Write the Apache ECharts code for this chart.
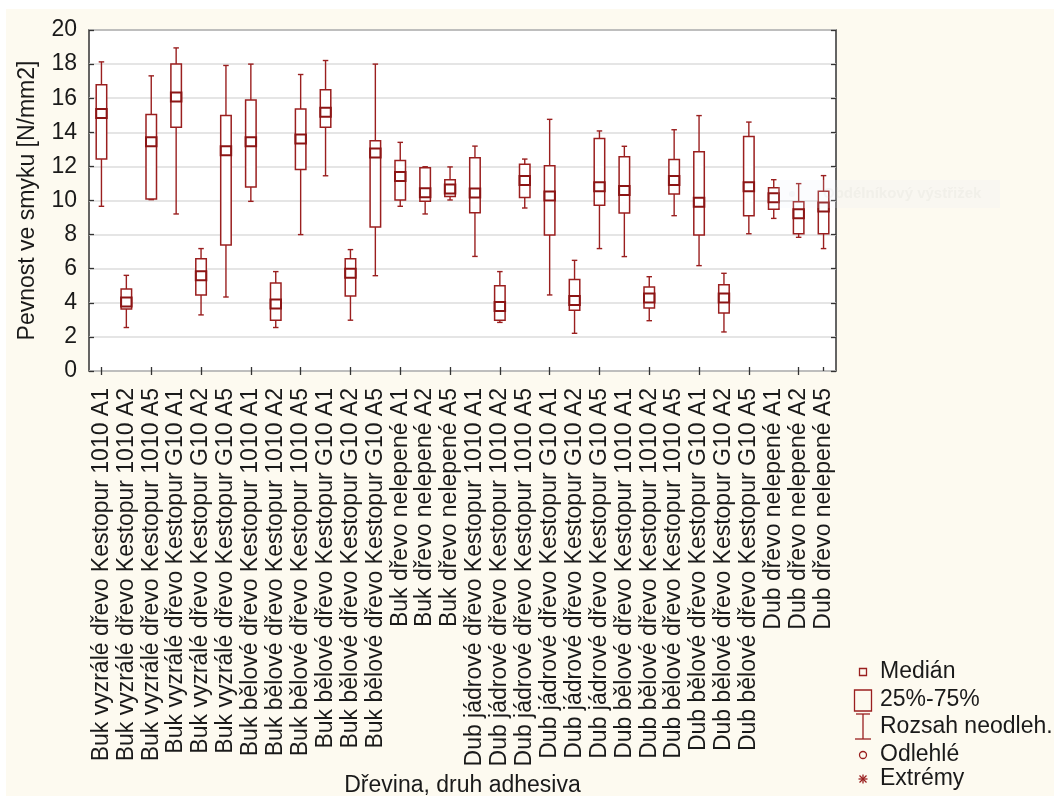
<!DOCTYPE html>
<html>
<head>
<meta charset="utf-8">
<script src="https://cdn.jsdelivr.net/npm/echarts@6.0.0/dist/echarts.min.js"></script>
<style>
  html, body { margin: 0; padding: 0; background: #fff; }
  #chart { width: 1054px; height: 796px; }
</style>
</head>
<body>
<div id="chart"></div>
<script>
// categories (x axis)
var categories = [
  'Buk vyzrálé dřevo Kestopur 1010 A1',
  'Buk vyzrálé dřevo Kestopur 1010 A2',
  'Buk vyzrálé dřevo Kestopur 1010 A5',
  'Buk vyzrálé dřevo Kestopur G10 A1',
  'Buk vyzrálé dřevo Kestopur G10 A2',
  'Buk vyzrálé dřevo Kestopur G10 A5',
  'Buk bělové dřevo Kestopur 1010 A1',
  'Buk bělové dřevo Kestopur 1010 A2',
  'Buk bělové dřevo Kestopur 1010 A5',
  'Buk bělové dřevo Kestopur G10 A1',
  'Buk bělové dřevo Kestopur G10 A2',
  'Buk bělové dřevo Kestopur G10 A5',
  'Buk dřevo nelepené A1',
  'Buk dřevo nelepené A2',
  'Buk dřevo nelepené A5',
  'Dub jádrové dřevo Kestopur 1010 A1',
  'Dub jádrové dřevo Kestopur 1010 A2',
  'Dub jádrové dřevo Kestopur 1010 A5',
  'Dub jádrové dřevo Kestopur G10 A1',
  'Dub jádrové dřevo Kestopur G10 A2',
  'Dub jádrové dřevo Kestopur G10 A5',
  'Dub bělové dřevo Kestopur 1010 A1',
  'Dub bělové dřevo Kestopur 1010 A2',
  'Dub bělové dřevo Kestopur 1010 A5',
  'Dub bělové dřevo Kestopur G10 A1',
  'Dub bělové dřevo Kestopur G10 A2',
  'Dub bělové dřevo Kestopur G10 A5',
  'Dub dřevo nelepené A1',
  'Dub dřevo nelepené A2',
  'Dub dřevo nelepené A5'
];

// whisker low / high (rozsah neodleh.)
var minValues = [9.66, 2.55, 10.05, 9.21, 3.29, 4.34, 9.95, 2.55, 8.00, 11.45,
                 2.98, 5.59, 9.66, 9.21, 10.03, 6.72, 2.85, 9.56, 4.46, 2.21,
                 7.18, 6.71, 2.95, 9.11, 6.18, 2.29, 8.05, 8.95, 7.84, 7.18];
var maxValues = [18.13, 5.61, 17.31, 18.95, 7.18, 17.92, 18.00, 5.83, 17.39, 18.21,
                 7.12, 18.00, 13.41, 11.98, 11.97, 13.19, 5.83, 12.43, 14.76, 6.49,
                 14.08, 13.18, 5.53, 14.15, 14.98, 5.73, 14.60, 11.22, 10.99, 11.46];
// 25% and 75%
var q1Values = [12.43, 3.64, 10.09, 14.30, 4.46, 7.39, 10.79, 2.98, 11.82, 14.30,
                4.40, 8.44, 10.03, 9.95, 10.24, 9.28, 2.97, 10.17, 7.98, 3.56,
                9.72, 9.27, 3.70, 10.38, 7.98, 3.40, 9.11, 9.48, 8.05, 8.05];
var q3Values = [16.79, 4.81, 15.05, 18.00, 6.59, 14.99, 15.89, 5.16, 15.36, 16.49,
                6.59, 13.50, 12.35, 11.92, 11.22, 12.51, 5.00, 12.12, 12.04, 5.36,
                13.63, 12.57, 4.93, 12.41, 12.86, 5.06, 13.76, 10.75, 9.93, 10.54];
// median
var medianValues = [15.10, 4.05, 13.45, 16.07, 5.59, 12.92, 13.44, 3.93, 13.60, 15.17,
                    5.73, 12.78, 11.41, 10.45, 10.67, 10.44, 3.78, 11.18, 10.27, 4.13,
                    10.80, 10.59, 4.28, 11.18, 9.90, 4.28, 10.80, 10.16, 9.23, 9.62];

var legendLabels = ['Medián', '25%-75%', 'Rozsah neodleh.', 'Odlehlé', 'Extrémy'];

var RED = '#9a1f1f';
var FONT = 'Liberation Sans, Arial, sans-serif';
var TEXT = '#1a1a1a';
var FS = 23;

var boxData = categories.map(function (c, i) {
  return [i, minValues[i], q1Values[i], medianValues[i], q3Values[i], maxValues[i]];
});

function renderBox(params, api) {
  var i = api.value(0);
  var pLow = api.coord([i, api.value(1)]);
  var pQ1 = api.coord([i, api.value(2)]);
  var pMed = api.coord([i, api.value(3)]);
  var pQ3 = api.coord([i, api.value(4)]);
  var pHigh = api.coord([i, api.value(5)]);
  var x = pMed[0];
  var bw = 10.5, cw = 5.5;
  var ls = { stroke: RED, lineWidth: 1.4, fill: null };
  return {
    type: 'group',
    children: [
      { type: 'line', shape: { x1: x, y1: pHigh[1], x2: x, y2: pQ3[1] }, style: ls },
      { type: 'line', shape: { x1: x, y1: pQ1[1], x2: x, y2: pLow[1] }, style: ls },
      { type: 'line', shape: { x1: x - cw / 2, y1: pHigh[1], x2: x + cw / 2, y2: pHigh[1] }, style: ls },
      { type: 'line', shape: { x1: x - cw / 2, y1: pLow[1], x2: x + cw / 2, y2: pLow[1] }, style: ls },
      { type: 'rect', shape: { x: x - bw / 2, y: pQ3[1], width: bw, height: pQ1[1] - pQ3[1] },
        style: { fill: '#fff', stroke: RED, lineWidth: 1.5 } },
      { type: 'rect', shape: { x: x - bw / 2, y: pMed[1] - 4.5, width: bw, height: 9 },
        style: { fill: 'none', stroke: '#8c1515', lineWidth: 2 } }
    ]
  };
}

// legend drawn as graphics (statistica style)
var lx = 863;
var legendY = [672, 700, 727, 755, 779];
var legendGraphics = [
  { type: 'rect', shape: { x: lx - 3.5, y: legendY[0] - 3.5, width: 7, height: 7 }, style: { fill: 'none', stroke: RED, lineWidth: 1.3 } },
  { type: 'rect', shape: { x: lx - 8.5, y: legendY[1] - 10, width: 17, height: 21 }, style: { fill: 'none', stroke: RED, lineWidth: 1.3 } },
  { type: 'line', shape: { x1: lx, y1: legendY[2] - 13, x2: lx, y2: legendY[2] + 12 }, style: { stroke: RED, lineWidth: 1.3 } },
  { type: 'line', shape: { x1: lx - 7, y1: legendY[2] - 13, x2: lx + 7, y2: legendY[2] - 13 }, style: { stroke: RED, lineWidth: 1.3 } },
  { type: 'line', shape: { x1: lx - 8, y1: legendY[2] + 12, x2: lx + 8, y2: legendY[2] + 12 }, style: { stroke: RED, lineWidth: 1.3 } },
  { type: 'circle', shape: { cx: lx, cy: legendY[3], r: 3.5 }, style: { fill: 'none', stroke: RED, lineWidth: 1.3 } },
  { type: 'line', shape: { x1: lx - 4.5, y1: legendY[4], x2: lx + 4.5, y2: legendY[4] }, style: { stroke: RED, lineWidth: 1.3 } },
  { type: 'line', shape: { x1: lx, y1: legendY[4] - 4.5, x2: lx, y2: legendY[4] + 4.5 }, style: { stroke: RED, lineWidth: 1.3 } },
  { type: 'line', shape: { x1: lx - 3.5, y1: legendY[4] - 3.5, x2: lx + 3.5, y2: legendY[4] + 3.5 }, style: { stroke: RED, lineWidth: 1.3 } },
  { type: 'line', shape: { x1: lx - 3.5, y1: legendY[4] + 3.5, x2: lx + 3.5, y2: legendY[4] - 3.5 }, style: { stroke: RED, lineWidth: 1.3 } }
];
legendLabels.forEach(function (t, i) {
  legendGraphics.push({
    type: 'text', x: 880, y: legendY[i],
    style: { text: t, font: FS + 'px ' + FONT, fill: TEXT, textVerticalAlign: 'middle' }
  });
});

var myChart = echarts.init(document.getElementById('chart'));

var option = {
  backgroundColor: '#fdfaf0',
  animation: false,
  grid: {
    left: 89, right: 218, top: 30, bottom: 425,
    outerBoundsMode: 'none',
    show: true, backgroundColor: '#fff', borderColor: '#333', borderWidth: 1.5
  },
  xAxis: [
    {
      type: 'category',
      data: categories,
      name: 'Dřevina, druh adhesiva',
      nameLocation: 'middle',
      nameGap: 403,
      nameTextStyle: { fontSize: FS, fontFamily: FONT, color: TEXT },
      axisLine: { show: false },
      axisTick: { show: true, inside: true, length: 4, interval: 1, alignWithLabel: true, lineStyle: { color: '#333', width: 1.3 } },
      axisLabel: { interval: 0, rotate: 90, fontSize: FS, fontFamily: FONT, color: TEXT, margin: 17 },
      splitLine: { show: false }
    },
    {
      type: 'category',
      data: categories,
      position: 'top',
      axisLine: { show: false },
      axisTick: { show: true, inside: true, length: 4, interval: 1, alignWithLabel: true, lineStyle: { color: '#333', width: 1.3 } },
      axisLabel: { show: false },
      splitLine: { show: false }
    }
  ],
  yAxis: [
    {
      type: 'value',
      min: 0, max: 20, interval: 2,
      name: 'Pevnost ve smyku [N/mm2]',
      nameLocation: 'middle',
      nameGap: 50,
      nameTextStyle: { fontSize: FS, fontFamily: FONT, color: TEXT },
      axisLine: { show: false },
      axisTick: { show: true, inside: true, length: 5, lineStyle: { color: '#333', width: 1.3 } },
      axisLabel: { fontSize: FS, fontFamily: FONT, color: TEXT, margin: 12 },
      splitLine: { lineStyle: { color: '#dddddd', width: 1.5 } }
    },
    {
      type: 'value',
      min: 0, max: 20, interval: 2,
      position: 'right',
      axisLine: { show: false },
      axisTick: { show: true, inside: true, length: 5, lineStyle: { color: '#333', width: 1.3 } },
      axisLabel: { show: false },
      splitLine: { show: false }
    }
  ],
  series: [
    {
      type: 'custom',
      renderItem: renderBox,
      encode: { x: 0, y: [1, 2, 3, 4, 5] },
      data: boxData,
      z: 3
    }
  ],
  graphic: [
    { type: 'rect', left: 0, top: 0, shape: { width: 1054, height: 9 }, style: { fill: '#fff' }, silent: true },
    { type: 'rect', left: 0, top: 0, shape: { width: 6, height: 796 }, style: { fill: '#fff' }, silent: true },
    // faint snipping-tool tooltip left in the screenshot
    { type: 'rect', x: 778, y: 180, shape: { width: 222, height: 28 }, style: { fill: 'rgba(225,235,250,0.15)' }, z: 10, silent: true },
    { type: 'circle', x: 792, y: 194, shape: { r: 3 }, style: { fill: 'rgba(200,205,215,0.12)' }, z: 10, silent: true },
    { type: 'text', x: 823, y: 194, style: { text: 'Obdélníkový výstřižek', font: 'bold 15px ' + FONT, fill: 'rgba(190,190,185,0.12)', textVerticalAlign: 'middle' }, z: 10, silent: true }
  ].concat(legendGraphics)
};

myChart.setOption(option, true);
</script>
</body>
</html>
